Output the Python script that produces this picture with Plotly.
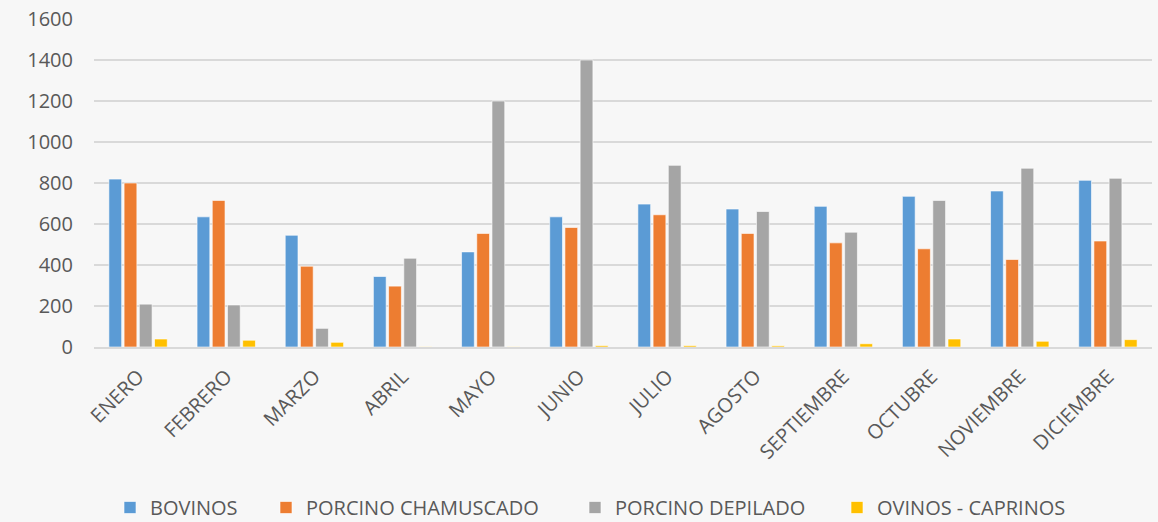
import plotly.graph_objects as go

months = ["ENERO", "FEBRERO", "MARZO", "ABRIL", "MAYO", "JUNIO", "JULIO",
          "AGOSTO", "SEPTIEMBRE", "OCTUBRE", "NOVIEMBRE", "DICIEMBRE"]
bovinos = [819, 635, 545, 344, 464, 635, 697, 673, 686, 735, 761, 813]
porcino_chamuscado = [800, 715, 394, 297, 554, 583, 645, 554, 508, 479, 427, 517]
porcino_depilado = [209, 205, 91, 433, 1200, 1400, 886, 661, 560, 715, 872, 823]
ovinos_caprinos = [39, 33, 23, 1, 1, 7, 7, 6, 16, 39, 28, 36]

series_names = ["BOVINOS", "PORCINO CHAMUSCADO", "PORCINO DEPILADO", "OVINOS - CAPRINOS"]
series_values = [bovinos, porcino_chamuscado, porcino_depilado, ovinos_caprinos]
series_colors = ["#5B9BD5", "#ED7D31", "#A5A5A5", "#FFC000"]

font_family = "'Open Sans', sans-serif"
text_color = "#595959"

W, H = 1158, 522
ML, MR, MT, MB = 94, 6, 19, 175
plot_w = W - ML - MR
plot_h = H - MT - MB

# legend entry left edges (pixels) for each series
legend_px = [110, 266, 575, 837]
legend_ids = ["legend", "legend2", "legend3", "legend4"]

fig = go.Figure()
for name, vals, color, lid in zip(series_names, series_values, series_colors, legend_ids):
    fig.add_trace(go.Bar(
        x=months, y=vals, name=name, legend=lid,
        marker=dict(color=color, line=dict(color="rgba(255,255,255,0.6)", width=1)),
    ))

legend_common = dict(orientation="h", yanchor="bottom", xanchor="left",
                     font=dict(family=font_family, size=20, color=text_color),
                     bgcolor="rgba(0,0,0,0)", borderwidth=0)
layout_legends = {}
for lid, px in zip(legend_ids, legend_px):
    layout_legends[lid] = dict(legend_common, x=(px - ML) / plot_w, y=(MT + plot_h - 527) / plot_h)

fig.update_layout(
    width=W, height=H,
    barmode="group", bargap=0.31, bargroupgap=0.16,
    paper_bgcolor="#f7f7f7", plot_bgcolor="#f7f7f7",
    margin=dict(l=ML, r=MR, t=MT, b=MB, autoexpand=False),
    font=dict(family=font_family, color=text_color),
    showlegend=True,
    xaxis=dict(tickangle=-45, tickfont=dict(size=20, color=text_color),
               showgrid=False, showline=True, linecolor="#d9d9d9", linewidth=2,
               ticks="", automargin=False, ticklabelstandoff=8),
    yaxis=dict(range=[0, 1600], dtick=200, tickfont=dict(size=20, color=text_color),
               showgrid=True, gridcolor="#d9d9d9", gridwidth=2, zeroline=False,
               ticklabelstandoff=20, automargin=False),
    **layout_legends,
)

fig.write_html("out.html", config={"displayModeBar": False},
               post_script="document.body.style.margin='0';document.body.style.overflow='hidden';")
